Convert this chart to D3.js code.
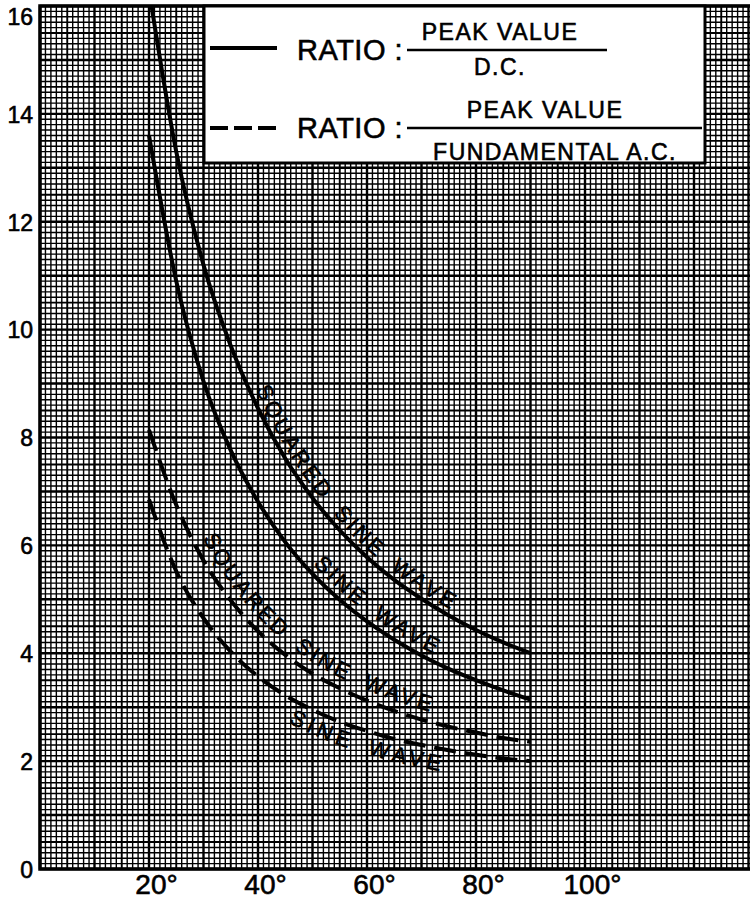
<!DOCTYPE html>
<html>
<head>
<meta charset="utf-8">
<script src="https://cdn.jsdelivr.net/npm/d3@7"></script>
<style>
body { margin: 0; background: #fff; }
svg { display: block; }
text { font-family: "Liberation Sans", Arial, sans-serif; fill: #000; stroke: #000; stroke-width: 0.6; }
</style>
</head>
<body>
<script>
// conduction angle (degrees)
var angles = [20, 25, 30, 35, 40, 45, 50, 55, 60, 65, 70, 75, 80, 85, 90];

// peak value / D.C.
var sqSineDC = [16.3, 13.3, 11.2, 9.7, 8.54, 7.61, 6.88, 6.28, 5.78, 5.36, 5.01, 4.70, 4.43, 4.20, 4.00];
var sineDC   = [13.6, 10.9, 9.04, 7.76, 6.81, 6.06, 5.47, 4.99, 4.59, 4.25, 3.96, 3.71, 3.50, 3.31, 3.14];

// peak value / fundamental A.C.
var sqSineFund = [8.14, 6.75, 5.72, 4.98, 4.41, 3.97, 3.62, 3.35, 3.12, 2.93, 2.77, 2.64, 2.53, 2.43, 2.36];
var sineFund   = [6.85, 5.52, 4.65, 4.03, 3.57, 3.22, 2.95, 2.73, 2.56, 2.41, 2.30, 2.20, 2.12, 2.05, 2.00];

var xTicks = [20, 40, 60, 80, 100];
var yTicks = [0, 2, 4, 6, 8, 10, 12, 14, 16];
var curveLabels = ['SQUARED SINE WAVE', 'SINE WAVE', 'SQUARED SINE WAVE', 'SINE WAVE'];

var W = 750, H = 901;

var svg = d3.select('body').append('svg')
  .attr('width', W)
  .attr('height', H);

var x = d3.scaleLinear().domain([0, 130]).range([40, 748.5]);
var y = d3.scaleLinear().domain([0, 16]).range([869, 6]);

function gridWidth(d) { return d % 10 == 0 ? 2.4 : (d % 5 == 0 ? 1.9 : 1.4); }

// graph paper
var grid = svg.append('g').attr('class', 'grid').attr('stroke', '#000');

grid.selectAll('line.gx')
  .data(d3.range(0, 131))
  .enter().append('line')
    .attr('class', 'gx')
    .attr('x1', function(d) { return x(d); })
    .attr('x2', function(d) { return x(d); })
    .attr('y1', y(16))
    .attr('y2', y(0))
    .attr('stroke-width', gridWidth);

grid.selectAll('line.gy')
  .data(d3.range(0, 161))
  .enter().append('line')
    .attr('class', 'gy')
    .attr('x1', x(0))
    .attr('x2', W)
    .attr('y1', function(d) { return y(d / 10); })
    .attr('y2', function(d) { return y(d / 10); })
    .attr('stroke-width', gridWidth);

// frame (left, top, bottom)
svg.append('path')
  .attr('d', 'M' + W + ',' + y(16) + 'H' + x(0) + 'V' + y(0) + 'H' + W)
  .attr('fill', 'none')
  .attr('stroke', '#000')
  .attr('stroke-width', 3.5);

// axes labels
var xAxis = svg.append('g')
  .attr('transform', 'translate(0,' + y(0) + ')')
  .call(d3.axisBottom(x).tickValues(xTicks).tickSize(0).tickPadding(5)
    .tickFormat(function(d) { return d + '°'; }));
xAxis.select('.domain').remove();
xAxis.selectAll('text')
  .attr('font-family', '"Liberation Sans", Arial, sans-serif')
  .attr('font-size', 28)
  .attr('dx', 7);

var yAxis = svg.append('g')
  .attr('transform', 'translate(' + x(0) + ',0)')
  .call(d3.axisLeft(y).tickValues(yTicks).tickSize(0).tickPadding(7));
yAxis.select('.domain').remove();
yAxis.selectAll('text')
  .attr('font-family', '"Liberation Sans", Arial, sans-serif')
  .attr('font-size', 23)
  .attr('dy', function(d) { return d == 16 ? '0.8em' : '0.36em'; });

// curves
svg.append('clipPath').attr('id', 'plotclip')
  .append('rect')
    .attr('x', x(0)).attr('y', y(16))
    .attr('width', W - x(0)).attr('height', y(0) - y(16));

var series = [sqSineDC, sineDC, sqSineFund, sineFund];
var dashed = [false, false, true, true];
// label layout: x where text starts on the curve, offset from curve
var labelAt = [250, 308, 194, 298];
var labelDy = [-6, -7, -10, 22];

var line = d3.line()
  .x(function(d, i) { return x(angles[i]); })
  .y(function(d) { return y(d); })
  .curve(d3.curveMonotoneX);

var curves = svg.append('g').attr('clip-path', 'url(#plotclip)');

series.forEach(function(vals, k) {
  var p = curves.append('path')
    .attr('id', 'curve' + k)
    .attr('d', line(vals))
    .attr('fill', 'none')
    .attr('stroke', '#000')
    .attr('stroke-width', 4)
    .attr('stroke-dasharray', dashed[k] ? '22,9' : null);

  var node = p.node();
  var total = node.getTotalLength();
  var lo = 0, hi = total;
  for (var it = 0; it < 40; it++) {
    var mid = (lo + hi) / 2;
    if (node.getPointAtLength(mid).x < labelAt[k]) lo = mid; else hi = mid;
  }

  svg.append('text')
    .attr('font-size', 22)
    .attr('letter-spacing', 3.5)
    .attr('word-spacing', 6)
    .attr('dy', labelDy[k])
    .append('textPath')
      .attr('href', '#curve' + k)
      .attr('startOffset', lo)
      .text(curveLabels[k]);
});

// legend
var lg = svg.append('g');
lg.append('rect')
  .attr('x', 204).attr('y', y(16))
  .attr('width', 501).attr('height', 157)
  .attr('fill', '#fff')
  .attr('stroke', '#000')
  .attr('stroke-width', 3);

lg.append('line')
  .attr('x1', 210).attr('x2', 277).attr('y1', 48).attr('y2', 48)
  .attr('stroke', '#000').attr('stroke-width', 4);
lg.append('line')
  .attr('x1', 210).attr('x2', 277).attr('y1', 128).attr('y2', 128)
  .attr('stroke', '#000').attr('stroke-width', 4)
  .attr('stroke-dasharray', '18,6');

lg.append('text').attr('x', 297).attr('y', 60).attr('font-size', 29).attr('letter-spacing', 0.5).text('RATIO :');
lg.append('text').attr('x', 297).attr('y', 138).attr('font-size', 29).attr('letter-spacing', 0.5).text('RATIO :');

lg.append('line')
  .attr('x1', 407).attr('x2', 607).attr('y1', 50).attr('y2', 50)
  .attr('stroke', '#000').attr('stroke-width', 2.5);
lg.append('line')
  .attr('x1', 407).attr('x2', 702).attr('y1', 128).attr('y2', 128)
  .attr('stroke', '#000').attr('stroke-width', 2.5);

lg.append('text').attr('x', 500).attr('y', 40).attr('font-size', 23)
  .attr('text-anchor', 'middle').attr('letter-spacing', 1.5).text('PEAK VALUE');
lg.append('text').attr('x', 500).attr('y', 75).attr('font-size', 23)
  .attr('text-anchor', 'middle').attr('letter-spacing', 1.5).text('D.C.');
lg.append('text').attr('x', 545).attr('y', 118).attr('font-size', 23)
  .attr('text-anchor', 'middle').attr('letter-spacing', 1.5).text('PEAK VALUE');
lg.append('text').attr('x', 555).attr('y', 160).attr('font-size', 23)
  .attr('text-anchor', 'middle').attr('letter-spacing', 1.5).text('FUNDAMENTAL A.C.');
</script>
</body>
</html>
